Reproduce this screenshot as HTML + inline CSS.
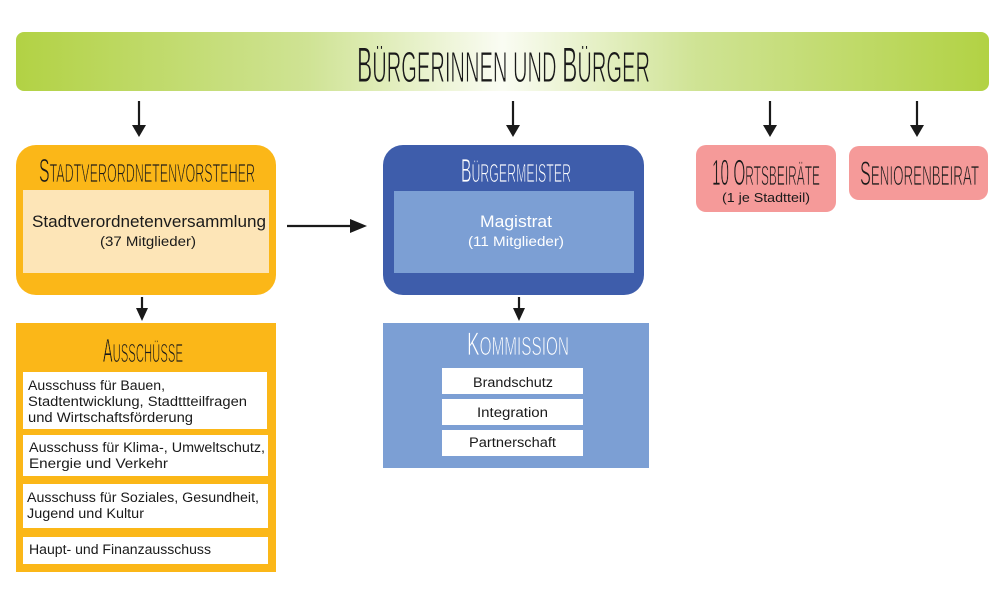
<!DOCTYPE html>
<html><head><meta charset="utf-8"><style>
html,body{margin:0;padding:0;background:#fff;}
svg{display:block;}
.t{font-family:"Liberation Sans",sans-serif;fill:#1a1a1a;}
.w{fill:#fff;}
</style></head><body>
<svg width="1000" height="616" viewBox="0 0 1000 616" xmlns="http://www.w3.org/2000/svg">
<defs>
<linearGradient id="g" gradientUnits="userSpaceOnUse" x1="16" y1="0" x2="989" y2="0">
<stop offset="0" stop-color="#b2d244"/>
<stop offset="0.3" stop-color="#cfe394"/>
<stop offset="0.5" stop-color="#fafcf3"/>
<stop offset="0.7" stop-color="#cfe394"/>
<stop offset="1" stop-color="#b2d244"/>
</linearGradient>
</defs>
<rect x="16" y="32" width="973" height="59" rx="8" fill="url(#g)"/>
<text class="t" x="357" y="82" textLength="293" lengthAdjust="spacingAndGlyphs" stroke="url(#g)" stroke-width="1"><tspan font-size="50">B</tspan><tspan font-size="44">ÜRGERINNEN UND </tspan><tspan font-size="50">B</tspan><tspan font-size="44">ÜRGER</tspan></text>

<g stroke="#1a1a1a" stroke-width="2.2" fill="none">
<line x1="139" y1="101" x2="139" y2="127"/>
<line x1="513" y1="101" x2="513" y2="127"/>
<line x1="770" y1="101" x2="770" y2="127"/>
<line x1="917" y1="101" x2="917" y2="127"/>
<line x1="142" y1="297" x2="142" y2="310"/>
<line x1="519" y1="297" x2="519" y2="310"/>
<line x1="287" y1="226" x2="352" y2="226"/>
</g>
<g fill="#1a1a1a">
<polygon points="132,125 146,125 139,137"/>
<polygon points="506,125 520,125 513,137"/>
<polygon points="763,125 777,125 770,137"/>
<polygon points="910,125 924,125 917,137"/>
<polygon points="136,308 148,308 142,321"/>
<polygon points="513,308 525,308 519,321"/>
<polygon points="350,219 350,233 367,226"/>
</g>

<!-- Stadtverordnetenvorsteher -->
<rect x="16" y="145" width="260" height="150" rx="20" fill="#fbb718"/>
<text class="t" x="39" y="182" textLength="216" lengthAdjust="spacingAndGlyphs" stroke="#fbb718" stroke-width="0.8"><tspan font-size="33">S</tspan><tspan font-size="26">TADTVERORDNETENVORSTEHER</tspan></text>
<rect x="23" y="190" width="246" height="83" fill="#fde5b7"/>
<text class="t" x="32" y="227" font-size="16.5" textLength="234" lengthAdjust="spacingAndGlyphs">Stadtverordnetenversammlung</text>
<text class="t" x="100" y="246" font-size="13.5" textLength="96" lengthAdjust="spacingAndGlyphs">(37 Mitglieder)</text>

<!-- Bürgermeister -->
<rect x="383" y="145" width="261" height="150" rx="20" fill="#3e5dab"/>
<text class="t w" x="461" y="182" textLength="110" lengthAdjust="spacingAndGlyphs" stroke="#3e5dab" stroke-width="0.8"><tspan font-size="33">B</tspan><tspan font-size="26">ÜRGERMEISTER</tspan></text>
<rect x="394" y="191" width="240" height="82" fill="#7c9fd4"/>
<text class="t w" x="480" y="227" font-size="16.5" textLength="72" lengthAdjust="spacingAndGlyphs">Magistrat</text>
<text class="t w" x="468" y="246" font-size="13.5" textLength="96" lengthAdjust="spacingAndGlyphs">(11 Mitglieder)</text>

<!-- Ortsbeiräte -->
<rect x="696" y="145" width="140" height="67" rx="10" fill="#f59a99"/>
<text class="t" x="712" y="185" textLength="108" lengthAdjust="spacingAndGlyphs" stroke="#f59a99" stroke-width="0.8"><tspan font-size="36">10 O</tspan><tspan font-size="28">RTSBEIRÄTE</tspan></text>
<text class="t" x="722" y="202" font-size="13" textLength="88" lengthAdjust="spacingAndGlyphs">(1 je Stadtteil)</text>

<!-- Seniorenbeirat -->
<rect x="849" y="146" width="139" height="54" rx="10" fill="#f59a99"/>
<text class="t" x="860" y="185" textLength="119" lengthAdjust="spacingAndGlyphs" stroke="#f59a99" stroke-width="0.8"><tspan font-size="34">S</tspan><tspan font-size="28">ENIORENBEIRAT</tspan></text>

<!-- Ausschüsse -->
<rect x="16" y="323" width="260" height="249" fill="#fbb718"/>
<text class="t" x="103" y="362" textLength="80" lengthAdjust="spacingAndGlyphs" stroke="#fbb718" stroke-width="0.8"><tspan font-size="33">A</tspan><tspan font-size="26">USSCHÜSSE</tspan></text>
<rect x="23" y="372" width="244" height="57" fill="#fff"/>
<text class="t" x="28" y="390" font-size="13.5" textLength="137" lengthAdjust="spacingAndGlyphs">Ausschuss für Bauen,</text>
<text class="t" x="28" y="406" font-size="13.5" textLength="219" lengthAdjust="spacingAndGlyphs">Stadtentwicklung, Stadttteilfragen</text>
<text class="t" x="28" y="422" font-size="13.5" textLength="165" lengthAdjust="spacingAndGlyphs">und Wirtschaftsförderung</text>
<rect x="23" y="435" width="245" height="41" fill="#fff"/>
<text class="t" x="29" y="452" font-size="13.5" textLength="236" lengthAdjust="spacingAndGlyphs">Ausschuss für Klima-, Umweltschutz,</text>
<text class="t" x="29" y="468" font-size="13.5" textLength="139" lengthAdjust="spacingAndGlyphs">Energie und Verkehr</text>
<rect x="23" y="484" width="245" height="44" fill="#fff"/>
<text class="t" x="27" y="502" font-size="13.5" textLength="232" lengthAdjust="spacingAndGlyphs">Ausschuss für Soziales, Gesundheit,</text>
<text class="t" x="27" y="518" font-size="13.5" textLength="117" lengthAdjust="spacingAndGlyphs">Jugend und Kultur</text>
<rect x="23" y="537" width="245" height="27" fill="#fff"/>
<text class="t" x="29" y="554" font-size="13.5" textLength="182" lengthAdjust="spacingAndGlyphs">Haupt- und Finanzausschuss</text>

<!-- Kommission -->
<rect x="383" y="323" width="266" height="145" fill="#7c9fd4"/>
<text class="t w" x="467" y="355" textLength="102" lengthAdjust="spacingAndGlyphs" stroke="#7c9fd4" stroke-width="0.8"><tspan font-size="32">K</tspan><tspan font-size="26">OMMISSION</tspan></text>
<rect x="442" y="368" width="141" height="26" fill="#fff"/>
<text class="t" x="473" y="387" font-size="13.5" textLength="80" lengthAdjust="spacingAndGlyphs">Brandschutz</text>
<rect x="442" y="399" width="141" height="26" fill="#fff"/>
<text class="t" x="477" y="417" font-size="13.5" textLength="71" lengthAdjust="spacingAndGlyphs">Integration</text>
<rect x="442" y="430" width="141" height="26" fill="#fff"/>
<text class="t" x="469" y="447" font-size="13.5" textLength="87" lengthAdjust="spacingAndGlyphs">Partnerschaft</text>
</svg>
</body></html>
